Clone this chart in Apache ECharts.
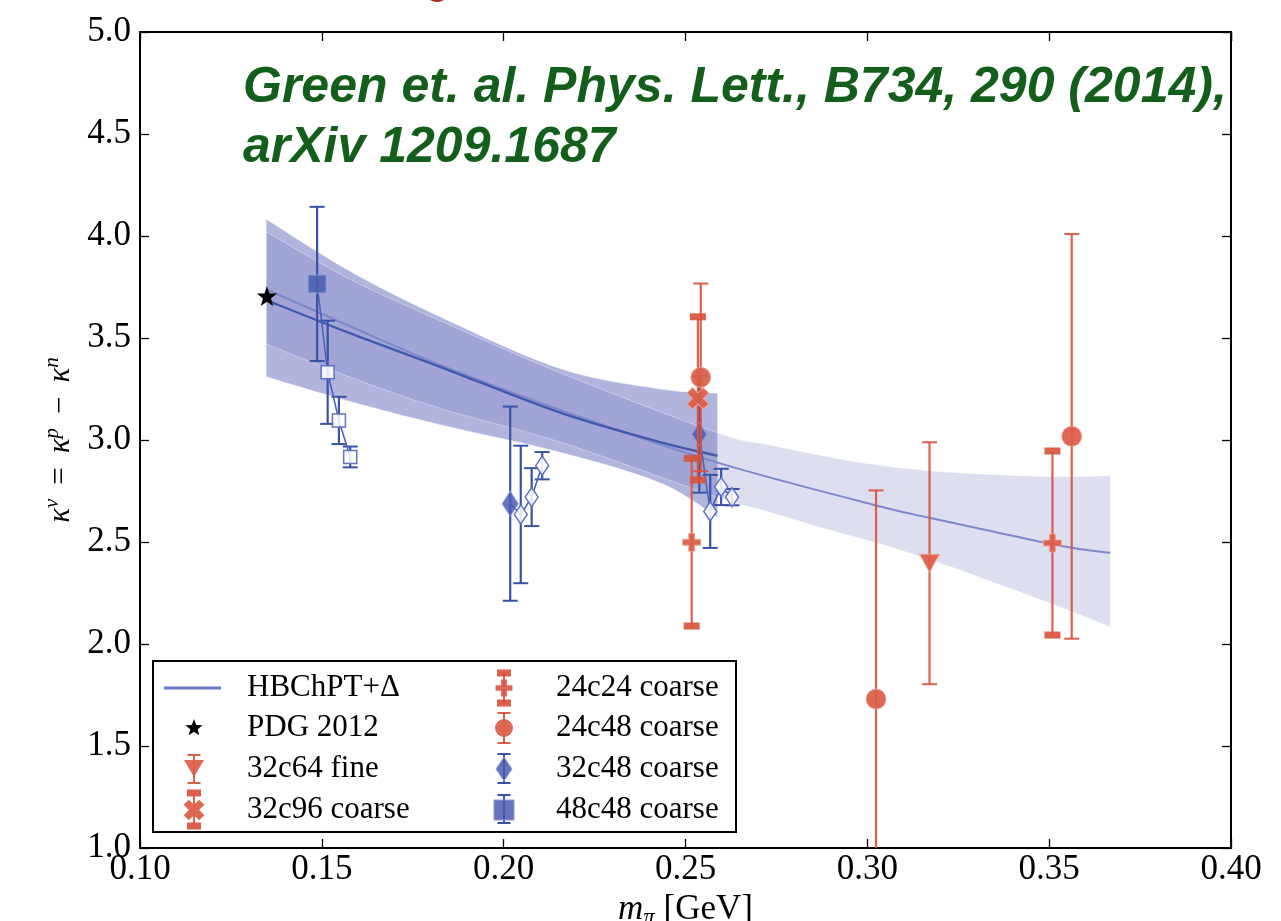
<!DOCTYPE html>
<html>
<head>
<meta charset="utf-8">
<script src="https://cdn.jsdelivr.net/npm/echarts@6/dist/echarts.min.js"></script>
<style>
  html, body { margin: 0; padding: 0; background: #fff; }
  #chart { width: 1281px; height: 921px; }
</style>
</head>
<body>
<div id="chart"></div>
<script>
// ---------- axis ticks ----------
const xTickValues = [0.10, 0.15, 0.20, 0.25, 0.30, 0.35, 0.40];
const yTickValues = [1.0, 1.5, 2.0, 2.5, 3.0, 3.5, 4.0, 4.5, 5.0];

// ---------- HBChPT+Delta fits ----------
// fit over the full pion-mass range (light band + thin curve)
const fullFitBandX    = [0.1347, 0.1575, 0.1825, 0.2155, 0.2588, 0.2733, 0.2914, 0.3036, 0.3195, 0.3350, 0.3532, 0.3668];
const fullFitBandLow  = [3.471, 3.31, 3.155, 2.99, 2.72, 2.645, 2.55, 2.49, 2.40, 2.30, 2.18, 2.083];
const fullFitBandHigh = [4.021, 3.79, 3.585, 3.33, 3.035, 2.975, 2.91, 2.875, 2.845, 2.83, 2.82, 2.825];
const fullFitCurveX   = [0.1347, 0.1575, 0.1825, 0.2155, 0.2588, 0.3036, 0.3184, 0.3530, 0.3668];
const fullFitCurveY   = [3.739, 3.56, 3.368, 3.147, 2.889, 2.674, 2.614, 2.482, 2.447];

// fit restricted to the lighter pion masses (darker band + thick curve)
const lightFitBandX    = [0.1347, 0.1575, 0.1825, 0.2155, 0.2430, 0.2588];
const lightFitBandLow  = [3.310, 3.19, 3.075, 2.94, 2.79, 2.621];
const lightFitBandHigh = [4.082, 3.83, 3.604, 3.35, 3.25, 3.229];
const lightFitCurveY   = [3.686, 3.525, 3.359, 3.134, 2.99, 2.923];

// ---------- experiment ----------
const pdgX = [0.1349];
const pdgY = [3.706];

// ---------- lattice ensembles ----------
// blue ensembles: first entry is the main estimate, the following ones the open-symbol variants
const e48c48X   = [0.1487, 0.1516, 0.1547, 0.1578];
const e48c48Y   = [3.765, 3.332, 3.096, 2.917];
const e48c48Err = [0.378, 0.253, 0.116, 0.051];

const e32c48aX   = [0.2018, 0.2047, 0.2077, 0.2106];
const e32c48aY   = [2.688, 2.635, 2.720, 2.874];
const e32c48aErr = [0.476, 0.337, 0.142, 0.067];

const e32c48bX   = [0.2538, 0.2568, 0.2598, 0.2628];
const e32c48bY   = [3.028, 2.650, 2.770, 2.720];
const e32c48bErr = [0.286, 0.179, 0.089, 0.040];

// red ensembles
const e24c24X   = [0.2517, 0.3509];
const e24c24Y   = [2.499, 2.495];
const e24c24Err = [0.411, 0.451];

const e24c48X   = [0.2542, 0.3024, 0.3562];
const e24c48Y   = [3.307, 1.730, 3.018];
const e24c48Err = [0.460, 1.023, 0.992];

const e32c64X   = [0.3171];
const e32c64Y   = [2.396];
const e32c64Err = [0.593];

const e32c96X   = [0.2534];
const e32c96Y   = [3.204];
const e32c96Err = [0.400];

// legend entries, column by column
const legendNames = ['HBChPT+Δ', 'PDG 2012', '32c64 fine', '32c96 coarse',
                     '24c24 coarse', '24c48 coarse', '32c48 coarse', '48c48 coarse'];

// ---------- styling ----------
const SERIF = '"Liberation Serif", "DejaVu Serif", serif';
const BLUE = '#3a51a6';
const BLUE_FILL = 'rgba(74,92,178,0.85)';
const BLUE_EDGE = '#8f9cd8';
const RED = 'rgba(216,84,62,0.92)';
const RED_FILL = 'rgba(218,94,72,0.93)';
const RED_EDGE = 'rgba(245,170,150,0.8)';
const PLUS = 'path://M-1,-3H1V-1H3V1H1V3H-1V1H-3V-1H-1Z';
const STAR = 'path://M0,-10L2.35,-3.24L9.51,-3.09L3.8,1.24L5.88,8.09L0,4.3L-5.88,8.09L-3.8,1.24L-9.51,-3.09L-2.35,-3.24Z';

const pairs = (xs, ys) => xs.map((x, i) => [x, ys[i]]);
const triples = (xs, ys, es) => xs.map((x, i) => [x, ys[i], es[i]]);

// cubic Bezier path through pixel points (Catmull-Rom tangents)
function curvePath(pts, start) {
  let d = start + pts[0][0].toFixed(2) + ',' + pts[0][1].toFixed(2);
  for (let i = 0; i < pts.length - 1; i++) {
    const p0 = pts[Math.max(i - 1, 0)], p1 = pts[i], p2 = pts[i + 1], p3 = pts[Math.min(i + 2, pts.length - 1)];
    const c1x = p1[0] + (p2[0] - p0[0]) / 6, c1y = p1[1] + (p2[1] - p0[1]) / 6;
    const c2x = p2[0] - (p3[0] - p1[0]) / 6, c2y = p2[1] - (p3[1] - p1[1]) / 6;
    d += ' C' + c1x.toFixed(2) + ',' + c1y.toFixed(2) + ' ' + c2x.toFixed(2) + ',' + c2y.toFixed(2) +
         ' ' + p2[0].toFixed(2) + ',' + p2[1].toFixed(2);
  }
  return d;
}

function bandSeries(xs, lo, hi, fill, z) {
  return {
    type: 'custom', z: z, silent: true,
    data: [[xs[0], lo[0]]],
    encode: { x: 0, y: 1 },
    renderItem: function (params, api) {
      const top = xs.map(function (x, i) { return api.coord([x, hi[i]]); });
      const bot = xs.map(function (x, i) { return api.coord([x, lo[i]]); }).reverse();
      const d = curvePath(top, 'M') + ' ' + curvePath(bot, 'L') + ' Z';
      return {
        type: 'path',
        shape: { pathData: d },
        style: { fill: fill, stroke: 'rgba(255,255,255,0.35)', lineWidth: 1 }
      };
    }
  };
}

function curveSeries(xs, ys, color, width, z) {
  return {
    type: 'custom', z: z, silent: true,
    data: [[xs[0], ys[0]]],
    encode: { x: 0, y: 1 },
    renderItem: function (params, api) {
      const pts = xs.map(function (x, i) { return api.coord([x, ys[i]]); });
      return {
        type: 'path',
        shape: { pathData: curvePath(pts, 'M') },
        style: { fill: null, stroke: color, lineWidth: width }
      };
    }
  };
}

function errorBarSeries(xs, ys, es, color, capKind, z) {
  return {
    type: 'custom', z: z, silent: true,
    data: triples(xs, ys, es),
    encode: { x: 0, y: 1 },
    renderItem: function (params, api) {
      const cs = params.coordSys;
      const x = api.value(0), y = api.value(1), e = api.value(2);
      const pTop = api.coord([x, y + e]);
      const pBot = api.coord([x, y - e]);
      const yTop = Math.max(pTop[1], cs.y);
      const yBot = Math.min(pBot[1], cs.y + cs.height);
      const children = [{
        type: 'line',
        shape: { x1: pTop[0], y1: yTop, x2: pTop[0], y2: yBot },
        style: { stroke: color, lineWidth: 2.2 }
      }];
      [pTop, pBot].forEach(function (p) {
        if (p[1] < cs.y - 1 || p[1] > cs.y + cs.height + 1) return;
        if (capKind === 'thick') {
          children.push({ type: 'rect', shape: { x: p[0] - 8, y: p[1] - 3.5, width: 16, height: 7 },
                          style: { fill: color } });
        } else {
          children.push({ type: 'line', shape: { x1: p[0] - 7.5, y1: p[1], x2: p[0] + 7.5, y2: p[1] },
                          style: { stroke: color, lineWidth: 2 } });
        }
      });
      return { type: 'group', children: children };
    }
  };
}

function blueEnsemble(xs, ys, symbol, mainSize, openSize, z) {
  return {
    type: 'line', z: z, silent: true, showSymbol: true, showAllSymbol: true,
    data: xs.map(function (x, i) {
      return {
        value: [x, ys[i]],
        symbol: symbol,
        symbolSize: i === 0 ? mainSize : openSize,
        itemStyle: i === 0
          ? { color: BLUE_FILL, borderColor: BLUE_EDGE, borderWidth: 1, opacity: 1 }
          : { color: 'rgba(255,255,255,0.85)', borderColor: '#5f71bf', borderWidth: 1.5, opacity: 1 }
      };
    }),
    lineStyle: { color: '#4d62b5', width: 1.6 }
  };
}

function redMarkers(xs, ys, symbol, size, rotate, z) {
  return {
    type: 'scatter', z: z, silent: true,
    data: pairs(xs, ys),
    symbol: symbol, symbolSize: size, symbolRotate: rotate,
    itemStyle: { color: RED_FILL, borderColor: RED_EDGE, borderWidth: 1, opacity: 1 }
  };
}

// ---------- legend (drawn as graphic elements) ----------
function starPoints(cx, cy, R, r) {
  const pts = [];
  for (let k = 0; k < 10; k++) {
    const a = -Math.PI / 2 + k * Math.PI / 5;
    const rad = k % 2 ? r : R;
    pts.push([cx + rad * Math.cos(a), cy + rad * Math.sin(a)]);
  }
  return pts;
}
function legendBar(cx, y1, y2, color, thick) {
  const out = [{ type: 'line', shape: { x1: cx, y1: y1, x2: cx, y2: y2 }, style: { stroke: color, lineWidth: 2 } }];
  [y1, y2].forEach(function (yy) {
    out.push(thick
      ? { type: 'rect', shape: { x: cx - 7, y: yy - 3.5, width: 14, height: 7 }, style: { fill: color } }
      : { type: 'line', shape: { x1: cx - 6.5, y1: yy, x2: cx + 6.5, y2: yy }, style: { stroke: color, lineWidth: 2 } });
  });
  return out;
}
function plusPoints(cx, cy, s) {
  const u = s / 6;
  return [[-1, -3], [1, -3], [1, -1], [3, -1], [3, 1], [1, 1], [1, 3], [-1, 3], [-1, 1], [-3, 1], [-3, -1], [-1, -1]]
    .map(function (p) { return [cx + p[0] * u, cy + p[1] * u]; });
}

const legendIcons = [
  function (cx, cy) { return [{ type: 'line', shape: { x1: cx - 30, y1: cy, x2: cx + 27, y2: cy }, style: { stroke: '#6b79c4', lineWidth: 3 } }]; },
  function (cx, cy) { return [{ type: 'polygon', shape: { points: starPoints(cx, cy, 9, 3.8) }, style: { fill: '#000' } }]; },
  function (cx, cy) {
    return legendBar(cx, cy - 14, cy + 14, RED, false).concat([
      { type: 'polygon', shape: { points: [[cx - 10, cy - 9], [cx + 10, cy - 9], [cx, cy + 8]] }, style: { fill: RED_FILL } }]);
  },
  function (cx, cy) {
    return legendBar(cx, cy - 17, cy + 16, RED, true).concat([
      { type: 'polygon', shape: { points: plusPoints(0, 0, 22) }, x: cx, y: cy, rotation: Math.PI / 4, style: { fill: RED_FILL } }]);
  },
  function (cx, cy) {
    return legendBar(cx, cy - 15, cy + 15, RED, true).concat([
      { type: 'polygon', shape: { points: plusPoints(cx, cy, 17) }, style: { fill: RED_FILL } }]);
  },
  function (cx, cy) {
    return legendBar(cx, cy - 15, cy + 15, RED, false).concat([
      { type: 'circle', shape: { cx: cx, cy: cy, r: 9 }, style: { fill: RED_FILL } }]);
  },
  function (cx, cy) {
    return legendBar(cx, cy - 15, cy + 14, BLUE, false).concat([
      { type: 'polygon', shape: { points: [[cx, cy - 12], [cx + 8, cy], [cx, cy + 12], [cx - 8, cy]] }, style: { fill: BLUE_FILL, stroke: BLUE_EDGE, lineWidth: 1 } }]);
  },
  function (cx, cy) {
    return legendBar(cx, cy - 15, cy + 13, BLUE, false).concat([
      { type: 'rect', shape: { x: cx - 10, y: cy - 10, width: 20, height: 20 }, style: { fill: BLUE_FILL, stroke: BLUE_EDGE, lineWidth: 1 } }]);
  }
];

const legendChildren = [{
  type: 'rect', shape: { x: 153, y: 661, width: 583, height: 171 },
  style: { fill: '#fff', stroke: '#000', lineWidth: 2 }
}];
const legendRows = [688, 728, 769, 810];
legendNames.forEach(function (name, i) {
  const col = Math.floor(i / 4), row = i % 4;
  const cx = col === 0 ? 194 : 504;
  const tx = col === 0 ? 247 : 556;
  const cy = legendRows[row];
  legendIcons[i](cx, cy).forEach(function (el) { legendChildren.push(el); });
  legendChildren.push({
    type: 'text', x: tx, y: cy,
    style: { text: name, font: '31px ' + SERIF, fill: '#000', verticalAlign: 'middle', align: 'left' }
  });
});

// ---------- chart ----------
const chart = echarts.init(document.getElementById('chart'), null, { renderer: 'canvas' });

const xMin = xTickValues[0], xMax = xTickValues[xTickValues.length - 1], xStep = xTickValues[1] - xTickValues[0];
const yMin = yTickValues[0], yMax = yTickValues[yTickValues.length - 1], yStep = yTickValues[1] - yTickValues[0];

const tickStyle = { inside: true, length: 9, lineStyle: { color: '#000', width: 1.3 } };
const lineStyleAxis = { show: true, onZero: false, lineStyle: { color: '#000', width: 2 } };
const GAP = ' \u2009';
const GAP_R = '\u2009 ';

chart.setOption({
  animation: false,
  backgroundColor: '#fff',
  grid: { left: 140, right: 50, top: 32, bottom: 73, containLabel: false, outerBoundsMode: 'none' },
  xAxis: [{
    type: 'value', position: 'bottom', min: xMin, max: xMax, interval: xStep,
    axisLine: lineStyleAxis, axisTick: tickStyle, splitLine: { show: false },
    axisLabel: { formatter: function (v) { return v.toFixed(2); }, fontFamily: SERIF, fontSize: 35, color: '#000', margin: 4 },
    name: '{i|m}{s|π} {t|[GeV]}', nameLocation: 'middle', nameGap: 37,
    nameTextStyle: {
      fontFamily: SERIF, fontSize: 35, color: '#000',
      rich: {
        i: { fontFamily: SERIF, fontStyle: 'italic', fontSize: 35, lineHeight: 38, verticalAlign: 'top', color: '#000' },
        s: { fontFamily: SERIF, fontStyle: 'italic', fontSize: 23, lineHeight: 22, verticalAlign: 'bottom', color: '#000' },
        t: { fontFamily: SERIF, fontSize: 35, lineHeight: 38, verticalAlign: 'top', color: '#000' }
      }
    }
  }, {
    type: 'value', position: 'top', min: xMin, max: xMax, interval: xStep,
    axisLine: lineStyleAxis, axisTick: tickStyle, axisLabel: { show: false }, splitLine: { show: false }
  }],
  yAxis: [{
    type: 'value', position: 'left', min: yMin, max: yMax, interval: yStep,
    axisLine: lineStyleAxis, axisTick: tickStyle, splitLine: { show: false },
    axisLabel: { formatter: function (v) { return v.toFixed(1); }, fontFamily: SERIF, fontSize: 35, color: '#000', margin: 9 },
    name: '{k|κ}{u|v}{t|' + GAP + '=' + GAP_R + '}{k|κ}{u|p}{t|' + GAP + '−' + GAP_R + '}{k|κ}{u|n}',
    nameLocation: 'middle', nameGap: 48, nameRotate: 90,
    nameTextStyle: {
      fontFamily: SERIF, fontSize: 31, color: '#000',
      rich: {
        k: { fontFamily: SERIF, fontStyle: 'italic', fontSize: 31, lineHeight: 34, verticalAlign: 'bottom', color: '#000' },
        u: { fontFamily: SERIF, fontStyle: 'italic', fontSize: 21, lineHeight: 22, verticalAlign: 'top', color: '#000' },
        t: { fontFamily: SERIF, fontSize: 31, lineHeight: 34, verticalAlign: 'bottom', color: '#000' }
      }
    }
  }, {
    type: 'value', position: 'right', min: yMin, max: yMax, interval: yStep,
    axisLine: lineStyleAxis, axisTick: tickStyle, axisLabel: { show: false }, splitLine: { show: false }
  }],
  series: [
    bandSeries(lightFitBandX, lightFitBandLow, lightFitBandHigh, 'rgba(95,105,185,0.49)', 1),
    bandSeries(fullFitBandX, fullFitBandLow, fullFitBandHigh, 'rgba(100,110,190,0.22)', 2),
    curveSeries(fullFitCurveX, fullFitCurveY, '#7e88c9', 2, 3),
    curveSeries(lightFitBandX, lightFitCurveY, '#4458ad', 2.4, 3),

    errorBarSeries(e48c48X, e48c48Y, e48c48Err, BLUE, 'line', 4),
    errorBarSeries(e32c48aX, e32c48aY, e32c48aErr, BLUE, 'line', 4),
    errorBarSeries(e32c48bX, e32c48bY, e32c48bErr, BLUE, 'line', 4),
    blueEnsemble(e48c48X, e48c48Y, 'rect', 18, 13, 5),
    blueEnsemble(e32c48aX, e32c48aY, 'diamond', [16, 25], [13, 19], 5),
    blueEnsemble(e32c48bX, e32c48bY, 'diamond', [15, 23], [13, 19], 5),

    errorBarSeries(e24c24X, e24c24Y, e24c24Err, RED, 'thick', 6),
    errorBarSeries(e24c48X, e24c48Y, e24c48Err, RED, 'line', 6),
    errorBarSeries(e32c64X, e32c64Y, e32c64Err, RED, 'line', 6),
    errorBarSeries(e32c96X, e32c96Y, e32c96Err, RED, 'thick', 6),
    redMarkers(e24c24X, e24c24Y, PLUS, 18, 0, 7),
    redMarkers(e24c48X, e24c48Y, 'circle', 20, 0, 7),
    redMarkers(e32c64X, e32c64Y, 'triangle', [20, 18], 180, 7),
    redMarkers(e32c96X, e32c96Y, PLUS, 23, 45, 7),

    {
      type: 'scatter', z: 8, silent: true, data: pairs(pdgX, pdgY),
      symbol: STAR, symbolSize: 20, itemStyle: { color: '#000', opacity: 1 }
    }
  ],
  graphic: [
    { type: 'circle', shape: { cx: 437, cy: -11, r: 13 }, style: { fill: '#b3281e' }, z: 50 },
    {
      type: 'text', x: 243, y: 88, z: 50,
      style: { text: 'Green et. al. Phys. Lett., B734, 290 (2014),', font: 'italic bold 50px "Liberation Sans", Arial, sans-serif',
               fill: '#145e1c', verticalAlign: 'middle' }
    },
    {
      type: 'text', x: 243, y: 148, z: 50,
      style: { text: 'arXiv 1209.1687', font: 'italic bold 50px "Liberation Sans", Arial, sans-serif',
               fill: '#145e1c', verticalAlign: 'middle' }
    },
    { type: 'group', z: 60, children: legendChildren }
  ]
});
</script>
</body>
</html>
